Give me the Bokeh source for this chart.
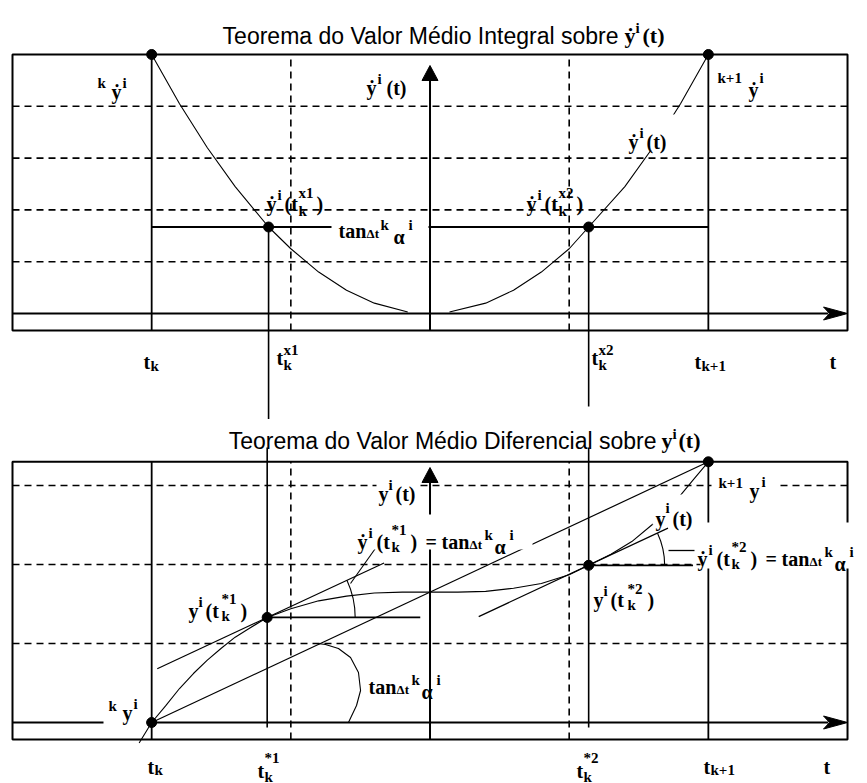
import math
from bokeh.plotting import figure
from bokeh.models import Range1d
from bokeh.layouts import column
from bokeh.embed import file_html
from bokeh.resources import INLINE
from bokeh.core.properties import value

# ---------------- data (diagram units) ----------------
col_solid = [1.0, 5.0]          # t_k, t_{k+1}
col_dashed = [2.0, 4.0]
col_axis = 3.0
frame_x = [0.0, 6.0]

# top panel: integral mean value theorem on y-dot
top_frame_y = [-0.33, 5.0]
top_levels = [1.0, 2.0, 3.0, 4.0]
top_end_t = [1.0, 5.0]
top_end_y = [5.0, 5.0]
top_mean_y = 1.67
top_mid_t = [1.84, 4.14]
para_left_t = [1.0, 1.2, 1.4, 1.6, 1.84, 2.0, 2.2, 2.4, 2.6, 2.84]
para_left_y = [5.0, 4.05, 3.2, 2.45, 1.67, 1.25, 0.8, 0.45, 0.2, 0.03]
para_right_t = [3.14, 3.4, 3.6, 3.8, 4.0, 4.14, 4.4, 4.6, 4.8, 5.0]
para_right_y = [0.03, 0.2, 0.45, 0.8, 1.25, 1.67, 2.45, 3.2, 4.05, 5.0]

# bottom panel: differential mean value theorem on y
bot_frame_y = [-0.215, 3.3]
bot_levels = [1.0, 2.0, 3.0]
bot_end_t = [1.0, 5.0]
bot_end_y = [0.0, 3.3]
bot_mid_t = [1.83, 4.14]
bot_mid_y = [1.33, 1.99]
curve_t = [0.91, 1.0, 1.1, 1.2, 1.3, 1.4, 1.5, 1.6, 1.7, 1.83, 2.0, 2.2, 2.4, 2.6,
           2.8, 3.0, 3.2, 3.4, 3.6, 3.8, 4.0, 4.14, 4.3, 4.45, 4.6, 4.75, 4.9, 5.0]
curve_y = [-0.26, 0.0, 0.21, 0.43, 0.62, 0.79, 0.94, 1.08, 1.19, 1.33, 1.44, 1.54, 1.60, 1.64,
           1.65, 1.65, 1.65, 1.66, 1.70, 1.76, 1.87, 1.99, 2.13, 2.29, 2.51, 2.77, 3.09, 3.3]
tan1_t = [1.04, 2.67]
tan1_y = [0.68, 2.02]
tan2_t = [3.35, 4.71]
tan2_y = [1.34, 2.46]
flat1_t = [1.83, 2.93]
flat2_t = [4.14, 4.89]
sec_arc_t = [2.414, 2.472, 2.501, 2.486, 2.429, 2.342, 2.249, 2.192]
sec_arc_y = [0.0, 0.215, 0.405, 0.633, 0.823, 0.937, 0.987, 1.0]

SERIF = "Liberation Serif"
SANS = "Liberation Sans"
M, S, SS = 20, 15, 13

# page-pixel helpers (for annotation placement only)
XS, Y1S, Y2S = 139.17, 51.8, 79.0
SPLIT = 419
def X(px): return (px - 12) / XS
def Y1(py): return (313 - py) / Y1S
def Y2(py): return (722 - py) / Y2S


def make_fig(h, yr):
    p = figure(width=867, height=h, x_range=Range1d(X(0), X(867)), y_range=Range1d(*yr),
               toolbar_location=None, output_backend="svg", min_border=0,
               x_axis_location=None, y_axis_location=None)
    p.grid.visible = False
    p.outline_line_color = None
    p.background_fill_color = "white"
    p.border_fill_color = "white"
    return p


def txt(p, Y, items, font=SERIF, style="bold", align="left"):
    for (x, y, s, size) in items:
        p.text(x=[X(x)], y=[Y(y)], text=[s], text_font=value(font), text_font_size=f"{size}px",
               text_font_style=style, text_align=align, text_baseline="alphabetic", text_color="black")


def wipe(p, Y, x0, x1, y0, y1):
    p.quad(left=[X(x0)], right=[X(x1)], top=[Y(y0)], bottom=[Y(y1)], fill_color="white", line_color=None)


def skeleton(p, Y, frame_y, levels, yscale, up_tip_py):
    p.segment(x0=[frame_x[0]] * len(levels), y0=levels, x1=[frame_x[1]] * len(levels), y1=levels,
              line_color="black", line_width=1.6, line_dash="7 5")
    p.segment(x0=col_dashed, y0=[frame_y[0]] * 2, x1=col_dashed, y1=[frame_y[1]] * 2,
              line_color="black", line_width=1.6, line_dash="7 5")
    p.segment(x0=col_solid, y0=[frame_y[0]] * 2, x1=col_solid, y1=[frame_y[1]] * 2,
              line_color="black", line_width=1.8)
    p.quad(left=[frame_x[0]], right=[frame_x[1]], bottom=[frame_y[0]], top=[frame_y[1]],
           fill_color=None, line_color="black", line_width=2)
    hl, hw = 24 / XS, 6.5 / yscale
    p.line([frame_x[0], frame_x[1] - hl * 0.8], [0, 0], line_color="black", line_width=2)
    p.patch([frame_x[1], frame_x[1] - hl, frame_x[1] - hl * 0.75, frame_x[1] - hl],
            [0, hw, 0, -hw], color="black")
    tip = Y(up_tip_py)
    vl, vw = 15 / yscale, 8 / XS
    p.line([col_axis, col_axis], [frame_y[0], tip - vl * 0.8], line_color="black", line_width=2)
    p.patch([col_axis, col_axis - vw, col_axis + vw], [tip, tip - vl, tip - vl], color="black")


# ====================== TOP FIGURE ======================
p1 = make_fig(SPLIT, (Y1(SPLIT), Y1(0)))
skeleton(p1, Y1, top_frame_y, top_levels, Y1S, 65)
p1.line([col_solid[0], col_solid[1]], [top_mean_y, top_mean_y], line_color="black", line_width=1.8)
p1.segment(x0=top_mid_t, y0=[top_mean_y] * 2, x1=top_mid_t, y1=[Y1(422), Y1(406)],
           line_color="black", line_width=1.6)
p1.line(para_left_t, para_left_y, line_color="black", line_width=1.1)
p1.line(para_right_t, para_right_y, line_color="black", line_width=1.1)

wipe(p1, Y1, 331, 428, 212, 240)
wipe(p1, Y1, 626, 676, 114, 150)

p1.scatter(top_end_t, top_end_y, size=10, color="black")
p1.scatter(top_mid_t, [top_mean_y] * 2, size=10, color="black")

txt(p1, Y1, [(618, 35, "Teorema do Valor Médio Integral sobre", 23)], font=SANS, style="normal", align="right")
txt(p1, Y1, [(624, 35, "ẏ", 22), (635, 27, "i", S), (642, 35, "(t)", 22)])

txt(p1, Y1, [
    (97, 82, "k", S), (111, 91, "ẏ", M), (122, 82, "i", S),
    (717, 77, "k+1", S), (748, 89, "ẏ", M), (759, 77, "i", S),
    (628, 141, "ẏ", M), (639, 132, "i", S), (646, 141, "(t)", M),
    (366, 87, "ẏ", M), (377, 78, "i", S), (386, 87, "(t)", M),
    (266, 203, "ẏ", M), (277, 194, "i", S), (284, 203, "(t", M), (298, 192, "x1", S),
    (298, 210, "k", S), (316, 203, ")", M),
    (526, 203, "ẏ", M), (537, 194, "i", S), (544, 203, "(t", M), (558, 192, "x2", S),
    (558, 210, "k", S), (576, 203, ")", M),
    (338, 230, "tan", M), (366, 233, "Δt", SS), (380, 224, "k", S), (393, 236, "α", M), (408, 224, "i", S),
    (143, 361, "t", M), (150, 365, "k", S),
    (276, 357, "t", M), (283, 349, "x1", S), (283, 364, "k", S),
    (591, 357, "t", M), (598, 349, "x2", S), (598, 364, "k", S),
    (694, 361, "t", M), (701, 365, "k+1", S),
    (829, 361, "t", M),
])

# ====================== BOTTOM FIGURE ======================
p2 = make_fig(783 - SPLIT, (Y2(783), Y2(SPLIT)))
skeleton(p2, Y2, bot_frame_y, bot_levels, Y2S, 467)
p2.segment(x0=bot_mid_t, y0=[Y2(447)] * 2, x1=bot_mid_t, y1=[Y2(727)] * 2,
           line_color="black", line_width=1.6)
p2.line(bot_end_t, bot_end_y, line_color="black", line_width=1.2)
p2.line(curve_t, curve_y, line_color="black", line_width=1.1)
p2.line(tan1_t, tan1_y, line_color="black", line_width=1.2)
p2.line(tan2_t, tan2_y, line_color="black", line_width=1.2)
p2.line(flat1_t, [bot_mid_y[0]] * 2, line_color="black", line_width=1.8)
p2.line(flat2_t, [bot_mid_y[1]] * 2, line_color="black", line_width=1.8)
ang = math.atan((tan1_y[1] - tan1_y[0]) / (tan1_t[1] - tan1_t[0]) * Y2S / XS)
p2.arc(x=[bot_mid_t[0]], y=[bot_mid_y[0]], radius=88, radius_units="screen",
       start_angle=0, end_angle=ang, line_color="black", line_width=1.1)
p2.arc(x=[bot_mid_t[1]], y=[bot_mid_y[1]], radius=76, radius_units="screen",
       start_angle=0, end_angle=ang, line_color="black", line_width=1.1)
p2.line(sec_arc_t, sec_arc_y, line_color="black", line_width=1.1)
p2.line([X(377), X(350)], [Y2(545), Y2(583)], line_color="black", line_width=1.1)
p2.line([X(668), X(694)], [Y2(550), Y2(550)], line_color="black", line_width=1.3)

wipe(p2, Y2, 376, 419, 475, 498)
wipe(p2, Y2, 711, 778, 465, 497)
wipe(p2, Y2, 652, 700, 494, 524)
wipe(p2, Y2, 700, 866, 522, 568)
wipe(p2, Y2, 352, 532, 514, 549)
wipe(p2, Y2, 103, 146, 691, 727)

p2.scatter(bot_end_t, bot_end_y, size=10, color="black")
p2.scatter(bot_mid_t, bot_mid_y, size=10, color="black")

txt(p2, Y2, [(656, 440, "Teorema do Valor Médio Diferencial sobre", 23)], font=SANS, style="normal", align="right")
txt(p2, Y2, [(661, 440, "y", 22), (672, 433, "i", S), (678, 440, "(t)", 22)])

txt(p2, Y2, [
    (378, 493, "y", M), (388, 484, "i", S), (395, 493, "(t)", M),
    (718, 482, "k+1", S), (749, 490, "y", M), (761, 481, "i", S),
    (655, 518, "y", M), (665, 507, "i", S), (672, 518, "(t)", M),
    (697, 558, "ẏ", M), (708, 549, "i", S), (716, 558, "(t", M), (731, 546, "*2", S), (731, 563, "k", S),
    (750, 558, ")", M), (765, 558, "=", M), (781, 558, "tan", M), (809, 561, "Δt", SS),
    (824, 551, "k", S), (834, 563, "α", M), (849, 551, "i", S),
    (357, 541, "ẏ", M), (368, 532, "i", S), (376, 541, "(t", M), (391, 529, "*1", S), (391, 546, "k", S),
    (410, 541, ")", M), (425, 541, "=", M), (441, 541, "tan", M), (469, 544, "Δt", SS),
    (484, 534, "k", S), (494, 546, "α", M), (509, 534, "i", S),
    (188, 610, "y", M), (198, 601, "i", S), (205, 610, "(t", M), (221, 598, "*1", S), (221, 615, "k", S),
    (240, 610, ")", M),
    (593, 599, "y", M), (603, 590, "i", S), (610, 599, "(t", M), (627, 588, "*2", S), (627, 604, "k", S),
    (647, 599, ")", M),
    (368, 686, "tan", M), (396, 689, "Δt", SS), (411, 679, "k", S), (421, 691, "α", M), (436, 679, "i", S),
    (108, 705, "k", S), (122, 712, "y", M), (133, 703, "i", S),
    (147, 766, "t", M), (154, 769, "k", S),
    (257, 770, "t", M), (264, 757, "*1", S), (264, 776, "k", S),
    (576, 770, "t", M), (583, 757, "*2", S), (583, 776, "k", S),
    (703, 766, "t", M), (710, 769, "k+1", S),
    (823, 766, "t", M),
])

layout = column(p1, p2)
open("out.html", "w").write(file_html(layout, INLINE))
